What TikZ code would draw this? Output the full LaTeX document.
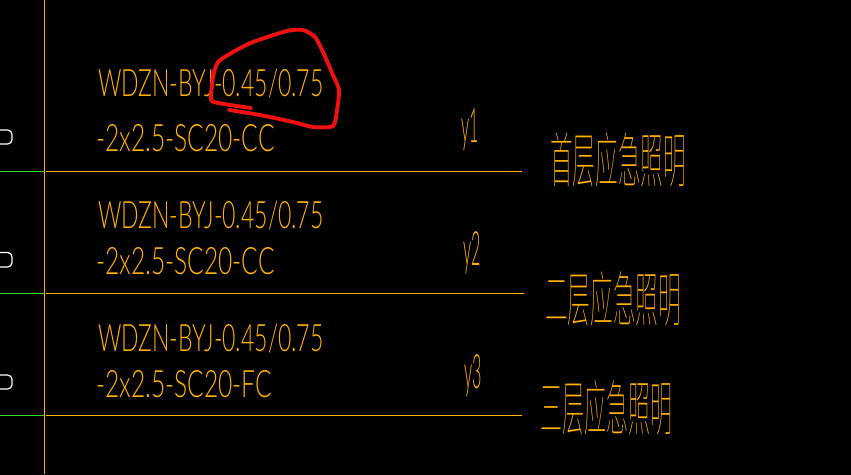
\documentclass[tikz,border=0pt]{standalone}
\usepackage{fontspec}
\usepackage{tikz}
\setmainfont{Lato Light}
\newfontfamily\cjkfont{Noto Sans CJK SC Thin}
\definecolor{cadorange}{HTML}{FFB000}
\definecolor{cadred}{HTML}{F01010}
\definecolor{cadgreen}{HTML}{30E030}
\tikzset{wire/.style = {cadorange, line width=0.7pt},
         lead/.style = {cadgreen, line width=0.7pt},
         cable/.style = {cadorange, inner sep=0, anchor=west, font=\fontsize{21.5}{21.5}\selectfont, xscale=0.61, transform shape},
         size/.style = {cadorange, inner sep=0, anchor=west, font=\fontsize{21.5}{21.5}\selectfont, xscale=0.65, transform shape},
         tag/.style = {cadorange, inner sep=0, font=\fontsize{27}{27}\selectfont, xscale=0.34, transform shape},
         floor/.style = {cadorange, inner sep=0, anchor=west, font=\cjkfont\fontsize{34}{34}\selectfont, xscale=0.38, transform shape},
         stub/.style = {white, line width=0.7pt, rounded corners=2.5pt}}

\begin{document}
\begin{tikzpicture}[x=0.02cm, y=-0.02cm]
    \useasboundingbox (0, 0) rectangle (851, 474);
    \path [fill=black] (-5, -5) rectangle (856, 479);

    \draw [wire] (44.5, 0) -- (44.5, 474);
    \draw [lead] (0, 171.5) -- (44, 171.5);
    \draw [wire] (46, 171.5) -- (522, 171.5);
    \draw [lead] (0, 293.5) -- (44, 293.5);
    \draw [wire] (46, 293.5) -- (524, 293.5);
    \draw [lead] (0, 415.5) -- (44, 415.5);
    \draw [wire] (46, 415.5) -- (522, 415.5);

    \draw [stub] (0, 130) -- (12, 130) -- (12, 144) -- (0, 144);
    \draw [stub] (0, 252.5) -- (12, 252.5) -- (12, 267) -- (0, 267);
    \draw [stub] (0, 375) -- (12, 375) -- (12, 389) -- (0, 389);

    \node [cable] (cableA) at (98, 84) {WDZN-BYJ-0.45/0.75};
    \node [size] (sizeA) at (96, 138) {-2x2.5-SC20-CC};
    \node [cable] (cableB) at (98, 216) {WDZN-BYJ-0.45/0.75};
    \node [size] (sizeB) at (96, 261) {-2x2.5-SC20-CC};
    \node [cable] (cableC) at (98, 339) {WDZN-BYJ-0.45/0.75};
    \node [size] (sizeC) at (96, 384) {-2x2.5-SC20-FC};

    \node [tag] (tagA) at (470.5, 130) {y1};
    \node [tag] (tagB) at (472.5, 253) {y2};
    \node [tag] (tagC) at (473, 376) {y3};

    \node [floor] (floorA) at (550, 160) {首层应急照明};
    \node [floor] (floorB) at (545, 299) {二层应急照明};
    \node [floor, xscale=0.97] (floorC) at (540, 408) {三层应急照明};

    \draw [cadred, line width=2.2pt, line cap=round, line join=round]
      plot [smooth, tension=0.4] coordinates {(251, 108) (230, 105) (214, 102) (211, 99) (213, 77)
        (218, 62) (233, 52) (253, 42) (287, 31) (303, 30) (315, 37) (323, 52) (333, 75) (339, 90)
        (337, 110) (333, 126) (313, 127) (293, 122) (260, 115) (229, 110)};
  \end{tikzpicture}
\end{document}
